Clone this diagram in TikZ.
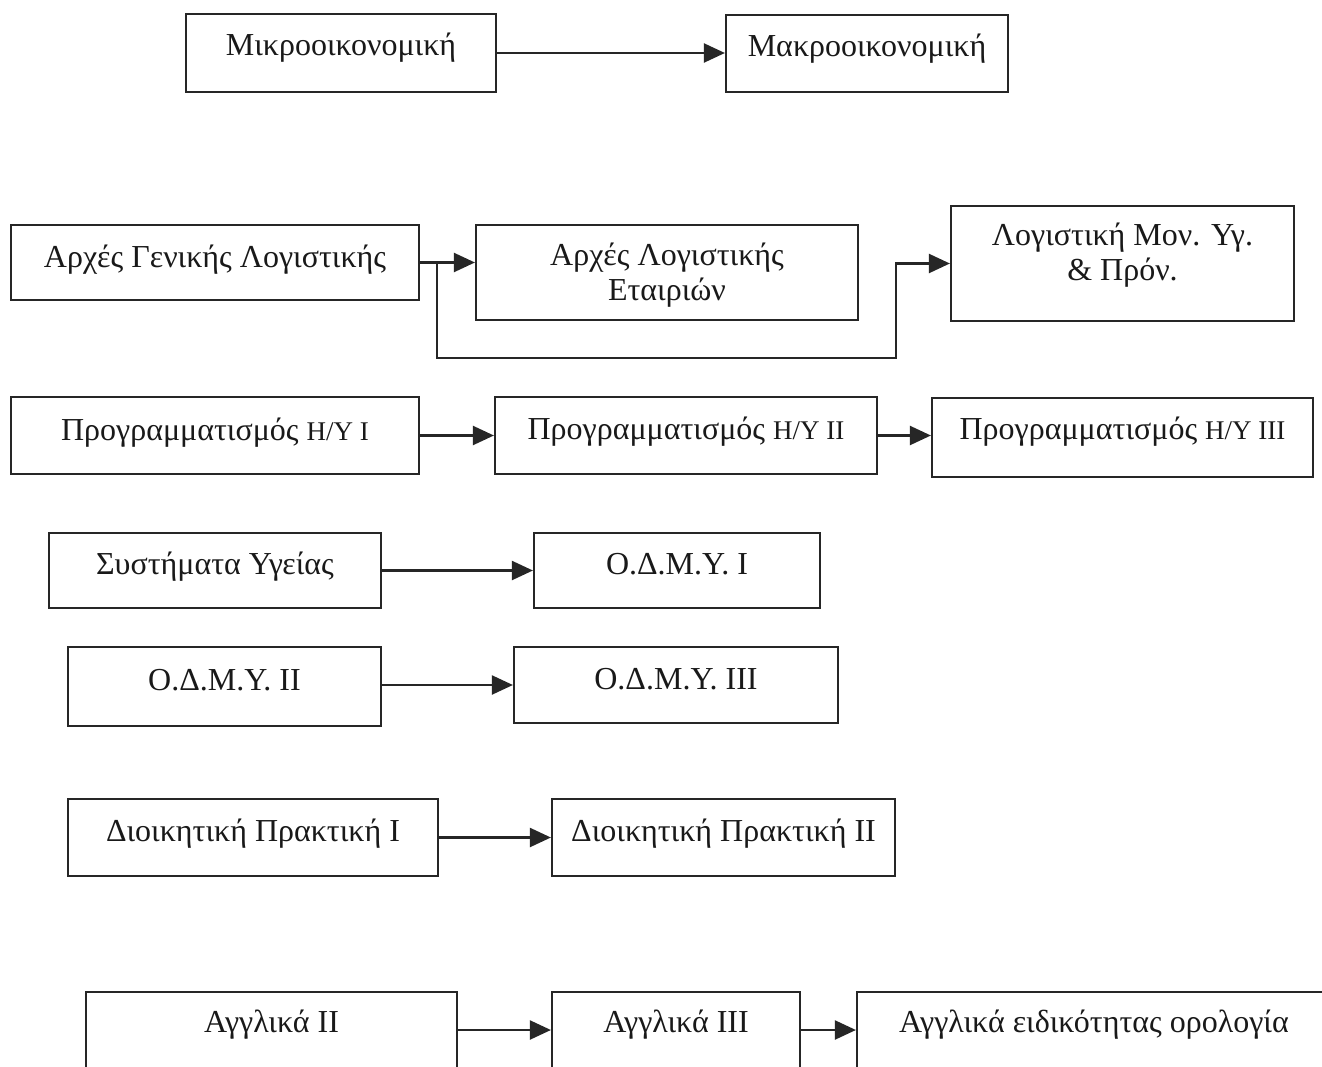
\documentclass[tikz,border=0pt]{standalone}
\usepackage{fontspec}
\setmainfont{Liberation Serif}
\usetikzlibrary{arrows.meta,calc}
\newcommand\hyfont{\fontsize{27}{30}\selectfont}
\begin{document}
\begin{tikzpicture}[x=1pt,y=-1pt,
  box/.style={draw=black!85, line width=2.2pt, rectangle, inner sep=0pt},
  txt/.style={font=\fontsize{32}{35}\selectfont, text=black!90, align=center, inner sep=0pt},
  arr/.style={draw=black!85, line width=2.2pt, -{Triangle[length=21pt,width=19pt]}}]
\clip (0,0) rectangle (1322,1067);
\fill[white] (0,0) rectangle (1322,1067);
\useasboundingbox (0,0) rectangle (1322,1067);

% row 1
\node[box, minimum width=310pt, minimum height=78pt, label={[txt,yshift=5pt]center:Μικροοικονομική}] (m1) at (341,53) {};
\node[box, minimum width=282pt, minimum height=77pt, label={[txt,yshift=5pt]center:Μακροοικονομική}] (m2) at (867,53.5) {};
\draw[arr] (m1.east) -- (m1.east -| m2.west);

% row 2
\node[box, minimum width=408pt, minimum height=75pt, label={[txt,yshift=3pt]center:Αρχές Γενικής Λογιστικής}] (g1) at (215,262.5) {};
\node[box, minimum width=382pt, minimum height=95pt, label={[txt,yshift=-3pt]center:Αρχές Λογιστικής\\Εταιριών}] (g2) at (667,272.5) {};
\node[box, minimum width=343pt, minimum height=115pt, label={[txt,yshift=8pt]center:Λογιστική Μον. Υγ.\\\& Πρόν.}] (g3) at (1122.5,263.5) {};
\draw[arr] (g1.east) -- (g1.east -| g2.west);
\coordinate (j1) at (437,262.5);
\coordinate (j2) at (896,358);
\draw[arr] (j1) |- (j2) |- (g3.west);

% row 3
\node[box, minimum width=408pt, minimum height=77pt, label={[txt,yshift=3pt]center:Προγραμματισμός {\hyfont Η/Υ I}}] (p1) at (215,435.5) {};
\node[box, minimum width=382pt, minimum height=77pt, label={[txt,yshift=4pt]center:Προγραμματισμός {\hyfont Η/Υ II}}] (p2) at (686,435.5) {};
\node[box, minimum width=381pt, minimum height=79pt, label={[txt,yshift=6pt]center:Προγραμματισμός {\hyfont Η/Υ III}}] (p3) at (1122.5,437.5) {};
\draw[arr] (p1.east) -- (p1.east -| p2.west);
\draw[arr] (p2.east) -- (p2.east -| p3.west);

% row 4
\node[box, minimum width=332pt, minimum height=75pt, label={[txt,yshift=4pt]center:Συστήματα Υγείας}] (s1) at (215,570.5) {};
\node[box, minimum width=286pt, minimum height=75pt, label={[txt,yshift=6pt]center:Ο.Δ.Μ.Υ. I}] (s2) at (677,570.5) {};
\draw[arr] (s1.east) -- (s1.east -| s2.west);

% row 5
\node[box, minimum width=313pt, minimum height=79pt, label={[txt,yshift=6pt]center:Ο.Δ.Μ.Υ. II}] (o1) at (224.5,686.5) {};
\node[box, minimum width=324pt, minimum height=76pt, label={[txt,yshift=6pt]center:Ο.Δ.Μ.Υ. III}] (o2) at (676,685) {};
\draw[arr] (o2.west -| o1.east) -- (o2.west);

% row 6
\node[box, minimum width=370pt, minimum height=77pt, label={[txt,yshift=4pt]center:Διοικητική Πρακτική I}] (d1) at (253,837.5) {};
\node[box, minimum width=343pt, minimum height=77pt, label={[txt,yshift=4pt]center:Διοικητική Πρακτική II}] (d2) at (723.5,837.5) {};
\draw[arr] (d1.east) -- (d1.east -| d2.west);

% row 7
\node[box, minimum width=371pt, minimum height=76pt, label={[txt,yshift=5pt]center:Αγγλικά II}] (a1) at (271.5,1030) {};
\node[box, minimum width=248pt, minimum height=76pt, label={[txt,yshift=5pt]center:Αγγλικά III}] (a2) at (676,1030) {};
\node[box, minimum width=480pt, minimum height=76pt] (a3) at (1097,1030) {};
\node[txt] (a3t) at (1094,1025) {Αγγλικά ειδικότητας ορολογία};
\draw[arr] (a1.east) -- (a1.east -| a2.west);
\draw[arr] (a2.east) -- (a2.east -| a3.west);
\end{tikzpicture}
\end{document}
